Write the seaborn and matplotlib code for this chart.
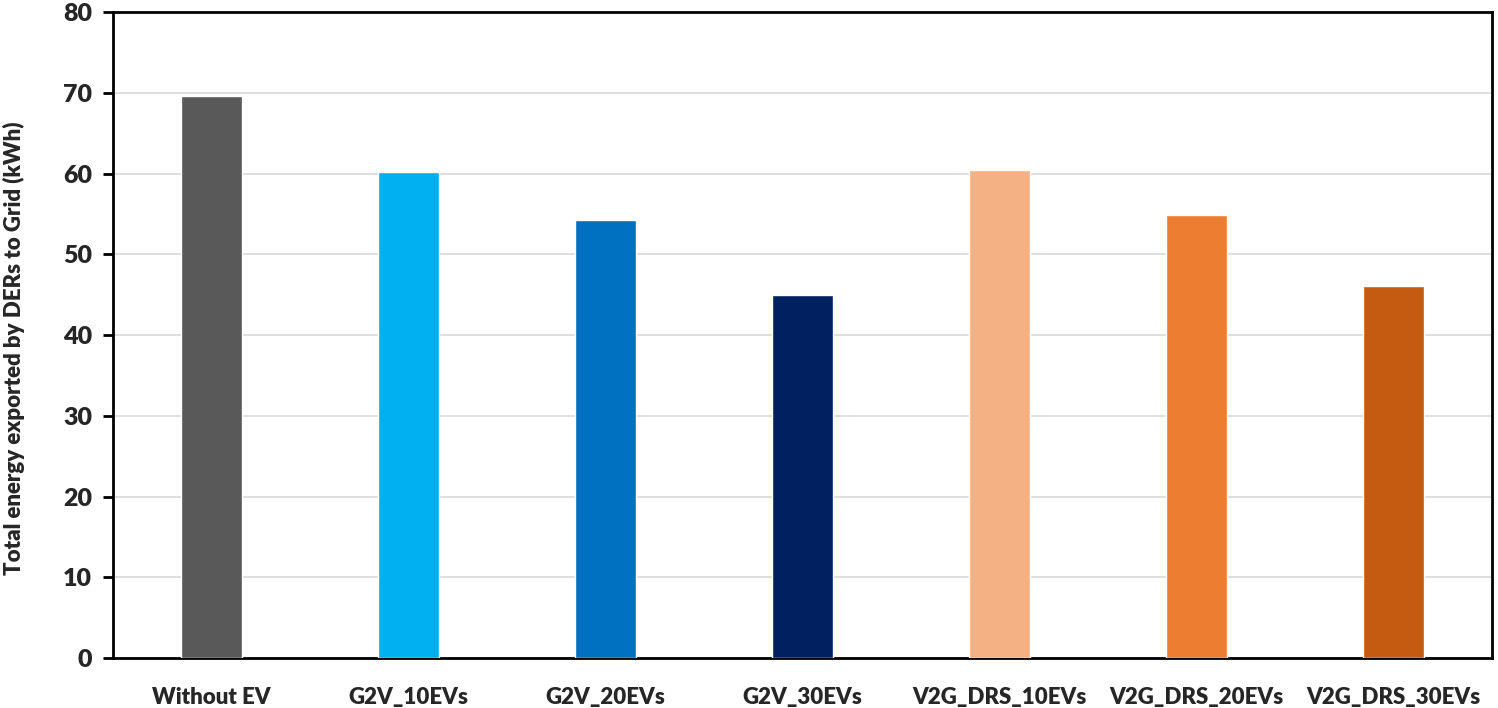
import pandas as pd
import seaborn as sns
import matplotlib.pyplot as plt

# data
scenarios = ["Without EV", "G2V_10EVs", "G2V_20EVs", "G2V_30EVs",
             "V2G_DRS_10EVs", "V2G_DRS_20EVs", "V2G_DRS_30EVs"]
energy_kwh = [69.6, 60.2, 54.3, 45.0, 60.4, 54.9, 46.1]
bar_colors = ["#595959", "#00B0F0", "#0070C0", "#002060",
              "#F4B183", "#ED7D31", "#C55A11"]

df = pd.DataFrame({"scenario": scenarios, "energy": energy_kwh})

sns.set_theme(style="white")
plt.rcParams["font.family"] = ["Lato", "DejaVu Sans"]
plt.rcParams["font.weight"] = "bold"

fig = plt.figure(figsize=(14.98, 7.08), dpi=100)
ax = fig.add_axes([0.0754, 0.0706, 0.9206, 0.9124])

sns.barplot(data=df, x="scenario", y="energy", hue="scenario",
            palette=bar_colors, saturation=1, width=0.31, legend=False,
            ax=ax, zorder=3)

ax.set_ylim(0, 80)
ax.set_yticks(range(0, 81, 10))
ax.yaxis.grid(True, color="#d9d9d9", linewidth=1.2, zorder=0)
ax.set_axisbelow(True)

for sp in ax.spines.values():
    sp.set_color("black")
    sp.set_linewidth(2)

ax.tick_params(axis="y", which="major", left=True, length=7, width=2,
               color="black", labelsize=18, pad=8)
ax.tick_params(axis="x", bottom=False, labelsize=16, pad=15)
for lab in ax.get_xticklabels() + ax.get_yticklabels():
    lab.set_fontweight("heavy")

ax.set_xlabel("")
ax.set_ylabel("Total energy exported by DERs to Grid (kWh)", fontsize=16,
              fontweight="heavy", labelpad=24)
ax.yaxis.set_label_coords(-0.064, 0.48)

fig.savefig("out.png", dpi=100)
